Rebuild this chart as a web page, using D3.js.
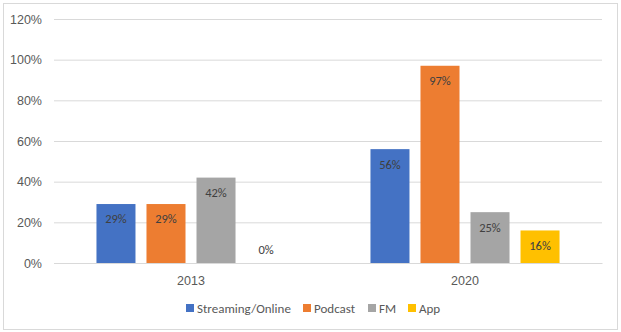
<!DOCTYPE html>
<html>
<head>
<meta charset="utf-8">
<script src="https://cdn.jsdelivr.net/npm/d3@7"></script>
<style>
  body { margin: 0; background: #fff; }
  svg { display: block; font-family: Calibri, Carlito, "Liberation Sans", "Open Sans", sans-serif; }
</style>
</head>
<body>
<div id="chart"></div>
<script>
// data
var years = ["2013", "2020"];
var seriesNames = ["Streaming/Online", "Podcast", "FM", "App"];
var seriesColors = ["#4472c4", "#ed7d31", "#a5a5a5", "#ffc000"];
var values2013 = [29, 29, 42, 0];
var values2020 = [56, 97, 25, 16];
var yTicks = [0, 20, 40, 60, 80, 100, 120];

var W = 621, H = 332;
var margin = {top: 19, right: 19, bottom: 69, left: 54},
    width = W - margin.left - margin.right,
    height = H - margin.top - margin.bottom;

var rows = years.map(function(y, i) {
  var vals = i === 0 ? values2013 : values2020;
  return {year: y, values: seriesNames.map(function(s, j) { return {name: s, value: vals[j], color: seriesColors[j]}; })};
});

var svg = d3.select("#chart").append("svg")
    .attr("width", W)
    .attr("height", H);

// chart border
svg.append("rect")
    .attr("x", 3.5).attr("y", 3.5)
    .attr("width", W - 7).attr("height", H - 6)
    .attr("fill", "#fff")
    .attr("stroke", "#d9d9d9");

var g = svg.append("g")
    .attr("transform", "translate(" + margin.left + "," + margin.top + ")");

var x0 = d3.scaleBand()
    .domain(years)
    .range([0, width])
    .paddingInner(0.31)
    .paddingOuter(0.155);

var x1 = d3.scaleBand()
    .domain(seriesNames)
    .range([0, x0.bandwidth()])
    .paddingInner(0.22)
    .paddingOuter(0);

var y = d3.scaleLinear()
    .domain([0, 120])
    .range([height, 0]);

// gridlines + y labels
var yAxis = d3.axisLeft(y)
    .tickValues(yTicks)
    .tickSize(-width)
    .tickPadding(12)
    .tickFormat(function(d) { return d + "%"; });
var ya = g.append("g").call(yAxis);
ya.select(".domain").remove();
ya.selectAll(".tick line").attr("stroke", "#d9d9d9");
ya.selectAll(".tick text").attr("fill", "#595959").style("font-size", "12.5px");

// x axis labels
var xa = g.append("g")
    .attr("transform", "translate(0," + height + ")")
    .call(d3.axisBottom(x0).tickSize(0).tickPadding(13));
xa.select(".domain").attr("stroke", "#d9d9d9");
xa.selectAll(".tick text").attr("fill", "#595959").style("font-size", "12.5px");

// bars
var groups = g.selectAll(".grp")
    .data(rows)
  .enter().append("g")
    .attr("class", "grp")
    .attr("transform", function(d) { return "translate(" + x0(d.year) + ",0)"; });

groups.selectAll("rect")
    .data(function(d) { return d.values; })
  .enter().append("rect")
    .attr("x", function(d) { return x1(d.name); })
    .attr("y", function(d) { return y(d.value); })
    .attr("width", x1.bandwidth())
    .attr("height", function(d) { return height - y(d.value); })
    .attr("fill", function(d) { return d.color; });

groups.selectAll("text")
    .data(function(d) { return d.values; })
  .enter().append("text")
    .attr("x", function(d) { return x1(d.name) + x1.bandwidth() / 2; })
    .attr("y", function(d) { return d.value === 0 ? y(0) - 13 : y(d.value) + 15; })
    .attr("dy", "0.35em")
    .attr("text-anchor", "middle")
    .attr("fill", "#404040")
    .style("font-size", "12.5px")
    .text(function(d) { return d.value + "%"; });

// legend
var legend = svg.append("g").attr("transform", "translate(186,308)");
var offsets = [0, 117, 182, 222];
seriesNames.forEach(function(s, i) {
  var item = legend.append("g").attr("transform", "translate(" + offsets[i] + ",0)");
  item.append("rect")
    .attr("x", 0).attr("y", -4)
    .attr("width", 8).attr("height", 8)
    .attr("fill", seriesColors[i]);
  item.append("text")
    .attr("x", 11).attr("y", 0)
    .attr("dy", "0.35em")
    .attr("fill", "#595959")
    .style("font-size", "13px")
    .text(s);
});
</script>
</body>
</html>
